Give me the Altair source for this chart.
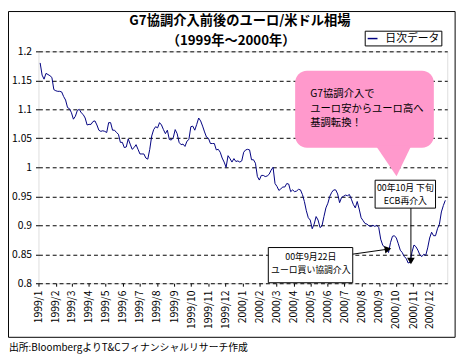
import altair as alt
import pandas as pd

# ---- data (EUR/USD, 1999-01 .. 2000-12, every 3.5 days) ----
start_date = "1999-01-04"
rate = [
    1.180, 1.159, 1.152, 1.162, 1.160, 1.158, 1.155, 1.134, 1.132, 1.131,
    1.131, 1.130, 1.122, 1.116, 1.103, 1.101, 1.094, 1.083, 1.088, 1.098,
    1.100, 1.094, 1.091, 1.085, 1.073, 1.074, 1.074, 1.079, 1.080, 1.073,
    1.064, 1.062, 1.063, 1.062, 1.060, 1.077, 1.077, 1.064, 1.064, 1.060,
    1.057, 1.043, 1.043, 1.034, 1.035, 1.049, 1.040, 1.031, 1.034, 1.039,
    1.031, 1.023, 1.023, 1.023, 1.016, 1.014, 1.031, 1.054, 1.065, 1.070,
    1.068, 1.077, 1.073, 1.065, 1.058, 1.064, 1.048, 1.047, 1.051, 1.065,
    1.058, 1.043, 1.039, 1.040, 1.036, 1.045, 1.048, 1.070, 1.071, 1.064,
    1.074, 1.085, 1.080, 1.071, 1.061, 1.052, 1.050, 1.041, 1.041, 1.041,
    1.030, 1.031, 1.026, 1.016, 1.009, 1.000, 1.020, 1.015, 1.009, 1.015,
    1.010, 1.011, 1.009, 1.011, 1.026, 1.030, 1.031, 1.030, 1.013, 1.013,
    1.007, 0.984, 0.978, 0.986, 0.986, 0.984, 0.985, 0.988, 0.995, 1.000,
    0.972, 0.967, 0.960, 0.963, 0.966, 0.966, 0.972, 0.971, 0.958, 0.961,
    0.958, 0.959, 0.962, 0.961, 0.953, 0.941, 0.925, 0.913, 0.909, 0.894,
    0.902, 0.915, 0.909, 0.896, 0.899, 0.915, 0.930, 0.938, 0.950, 0.957,
    0.961, 0.961, 0.954, 0.939, 0.948, 0.950, 0.952, 0.951, 0.953, 0.945,
    0.936, 0.930, 0.941, 0.928, 0.913, 0.908, 0.903, 0.902, 0.899, 0.898,
    0.900, 0.898, 0.900, 0.896, 0.876, 0.866, 0.862, 0.860, 0.853, 0.870,
    0.881, 0.882, 0.878, 0.868, 0.857, 0.853, 0.846, 0.843, 0.835, 0.836,
    0.854, 0.866, 0.863, 0.857, 0.849, 0.846, 0.850, 0.848, 0.861, 0.878,
    0.888, 0.882, 0.882, 0.894, 0.902, 0.923, 0.934, 0.943,
]
series_name = "日次データ"

y_ticks = [0.8, 0.85, 0.9, 0.95, 1.0, 1.05, 1.1, 1.15, 1.2]
month_ticks = [(1999, m) for m in range(1, 13)] + [(2000, m) for m in range(1, 13)]

title_lines = ["G7協調介入前後のユーロ/米ドル相場", "（1999年～2000年）"]
source_text = "出所:BloombergよりT&Cフィナンシャルリサーチ作成"

# callout bubble
bubble_x = ["2000-04-04", "2000-12-08"]
bubble_y = [1.1665, 1.0338]
bubble_tail = ("2000-09-27", 1.011)
bubble_lines = ["G7協調介入で", "ユーロ安からユーロ高へ", "基調転換！"]
bubble_text_x = "2000-05-01"
bubble_text_y = [1.1257, 1.1002, 1.0764]

# ECB annotation
ecb_box_x = ["2000-08-25", "2000-12-11"]
ecb_box_y = [0.9777, 0.9296]
ecb_lines = ["00年10月 下旬", "ECB再介入"]
ecb_text_x = "2000-10-18"
ecb_text_y = [0.9640, 0.9420]
ecb_arrow_x = "2000-10-28"
ecb_arrow_y = [0.9296, 0.8383]

# G7 annotation
g7_box_x = ["2000-02-16", "2000-07-16"]
g7_box_y = [0.8616, 0.8009]
g7_lines = ["00年9月22日", "ユーロ買い協調介入"]
g7_text_x = "2000-05-02"
g7_text_y = [0.8450, 0.8230]
g7_arrow_x = ["2000-07-16", "2000-09-17"]
g7_arrow_y = [0.8502, 0.8588]

# ---- build ----
FONT = "Noto Sans CJK JP"
NAVY = "#000080"
PINK = "#FF99CC"

dates = pd.date_range(start_date, periods=len(rate), freq="84h").strftime("%Y-%m-%dT%H:%M:%SZ")
df = pd.DataFrame({"date": list(dates), "rate": rate, "series": series_name})

x_scale = alt.Scale(type="utc",
                    domain=[alt.DateTime(year=1999, month=1, date=1, utc=True),
                            alt.DateTime(year=2001, month=1, date=1, utc=True)])
y_scale = alt.Scale(domain=[0.8, 1.2], nice=False, zero=False)

x_axis = alt.Axis(values=[alt.DateTime(year=y, month=m, date=1, utc=True) for y, m in month_ticks],
                  format="%Y/%-m", labelAngle=-90, title=None, grid=False, domain=False,
                  tickSize=3, tickColor="black", labelColor="black", labelFont=FONT,
                  labelFontSize=10.5, labelPadding=4, labelOverlap=False, labelFlush=False,
                  labelBound=False)
y_axis = alt.Axis(values=y_ticks, format=".3~f", title=None, grid=True, gridDash=[4, 3],
                  gridColor="black", gridOpacity=1, gridWidth=1, domain=False,
                  tickSize=3, tickColor="black", labelColor="black", labelFont=FONT,
                  labelFontSize=10.5, labelPadding=4)


def X(field):
    return alt.X(field, type="temporal", scale=x_scale, axis=x_axis, title=None)


def Y(field):
    return alt.Y(field, type="quantitative", scale=y_scale, axis=y_axis, title=None)


line = alt.Chart(df).mark_line(strokeWidth=1).encode(
    x=X("date"),
    y=Y("rate"),
    color=alt.Color("series:N", title=None,
                    scale=alt.Scale(range=[NAVY]),
                    legend=alt.Legend(orient="none", legendX=332, legendY=-21,
                                      strokeColor="black", fillColor="white", padding=2,
                                      labelFont=FONT, labelFontSize=11, labelColor="black",
                                      labelOffset=7, symbolType="stroke",
                                      symbolStrokeWidth=1.5, symbolSize=100)),
)

one = pd.DataFrame({"a": [0]})
frame_left = alt.Chart(one).mark_rule(color="black", strokeWidth=1).encode(
    x=alt.value(-30.5), y=alt.value(-40.5), y2=alt.value(291))
frame_right = alt.Chart(one).mark_rule(color="black", strokeWidth=1).encode(
    x=alt.value(424), y=alt.value(-40.5), y2=alt.value(291))
frame_top = alt.Chart(one).mark_rule(color="black", strokeWidth=1).encode(
    x=alt.value(-30.5), x2=alt.value(424), y=alt.value(-40.5))
frame_bottom = alt.Chart(one).mark_rule(color="black", strokeWidth=1).encode(
    x=alt.value(-30.5), x2=alt.value(424), y=alt.value(291))

titles = alt.Chart(pd.DataFrame({"t": title_lines, "px": [205, 196], "py": [-30.5, -10.5]})).mark_text(
    font=FONT, fontSize=13.5, fontWeight="bold", color="black", align="center", baseline="middle"
).encode(text="t:N", x=alt.X("px:Q", scale=None), y=alt.Y("py:Q", scale=None))

source = alt.Chart(pd.DataFrame({"t": [source_text]})).mark_text(
    font=FONT, fontSize=10, color="black", align="left", baseline="middle"
).encode(text="t:N", x=alt.value(-30), y=alt.value(302))

bubble_df = pd.DataFrame({"x": [bubble_x[0]], "x2": [bubble_x[1]], "y": [bubble_y[0]], "y2": [bubble_y[1]]})
bubble = alt.Chart(bubble_df).mark_rect(color=PINK, cornerRadius=12).encode(
    x=X("x"), x2="x2", y=Y("y"), y2="y2")
tail = alt.Chart(pd.DataFrame({"x": [bubble_tail[0]], "y": [bubble_tail[1]]})).mark_point(
    shape="M -1 -0.86 L 1 -0.86 L 0.167 0.86 Z", filled=True, fill=PINK, opacity=1,
    strokeWidth=0, size=1296).encode(x=X("x"), y=Y("y"))
bubble_text = alt.Chart(pd.DataFrame({"t": bubble_lines, "x": [bubble_text_x] * 3, "y": bubble_text_y})).mark_text(
    font=FONT, fontSize=10.5, color="black", align="left", baseline="middle"
).encode(text="t:N", x=X("x"), y=Y("y"))

ecb_box = alt.Chart(pd.DataFrame({"x": [ecb_box_x[0]], "x2": [ecb_box_x[1]], "y": [ecb_box_y[0]], "y2": [ecb_box_y[1]]})).mark_rect(
    fill="white", stroke="black", strokeWidth=1).encode(x=X("x"), x2="x2", y=Y("y"), y2="y2")
ecb_text = alt.Chart(pd.DataFrame({"t": ecb_lines, "x": [ecb_text_x] * 2, "y": ecb_text_y})).mark_text(
    font=FONT, fontSize=9, color="black", align="center", baseline="middle"
).encode(text="t:N", x=X("x"), y=Y("y"))
ecb_rule = alt.Chart(pd.DataFrame({"x": [ecb_arrow_x], "y": [ecb_arrow_y[0]], "y2": [ecb_arrow_y[1]]})).mark_rule(
    color="black", strokeWidth=1).encode(x=X("x"), y=Y("y"), y2="y2")
ecb_head = alt.Chart(pd.DataFrame({"x": [ecb_arrow_x], "y": [ecb_arrow_y[1]]})).mark_point(
    shape="triangle-down", filled=True, color="black", opacity=1, size=60).encode(x=X("x"), y=Y("y"))

g7_box = alt.Chart(pd.DataFrame({"x": [g7_box_x[0]], "x2": [g7_box_x[1]], "y": [g7_box_y[0]], "y2": [g7_box_y[1]]})).mark_rect(
    fill="white", stroke="black", strokeWidth=1).encode(x=X("x"), x2="x2", y=Y("y"), y2="y2")
g7_text = alt.Chart(pd.DataFrame({"t": g7_lines, "x": [g7_text_x] * 2, "y": g7_text_y})).mark_text(
    font=FONT, fontSize=9, color="black", align="center", baseline="middle"
).encode(text="t:N", x=X("x"), y=Y("y"))
g7_rule = alt.Chart(pd.DataFrame({"x": [g7_arrow_x[0]], "x2": [g7_arrow_x[1]], "y": [g7_arrow_y[0]], "y2": [g7_arrow_y[1]]})).mark_rule(
    color="black", strokeWidth=1).encode(x=X("x"), x2="x2", y=Y("y"), y2="y2")
g7_head = alt.Chart(pd.DataFrame({"x": [g7_arrow_x[1]], "y": [g7_arrow_y[1]]})).mark_point(
    shape="triangle-right", angle=350, filled=True, color="black", opacity=1, size=60).encode(x=X("x"), y=Y("y"))

chart = alt.layer(
    frame_left, frame_right, frame_top, frame_bottom,
    line, bubble, tail, bubble_text,
    ecb_box, ecb_text, ecb_rule, ecb_head,
    g7_box, g7_text, g7_rule, g7_head,
    titles, source,
).properties(
    width=416, height=236,
    padding={"left": 31, "top": 41, "right": 15, "bottom": 75},
    autosize=alt.AutoSizeParams(type="none"),
    background="white",
).configure_view(stroke="black", strokeWidth=1, fill="white"
).configure(font=FONT)

chart.save("out.html", embed_options={"renderer": "svg", "actions": False})
